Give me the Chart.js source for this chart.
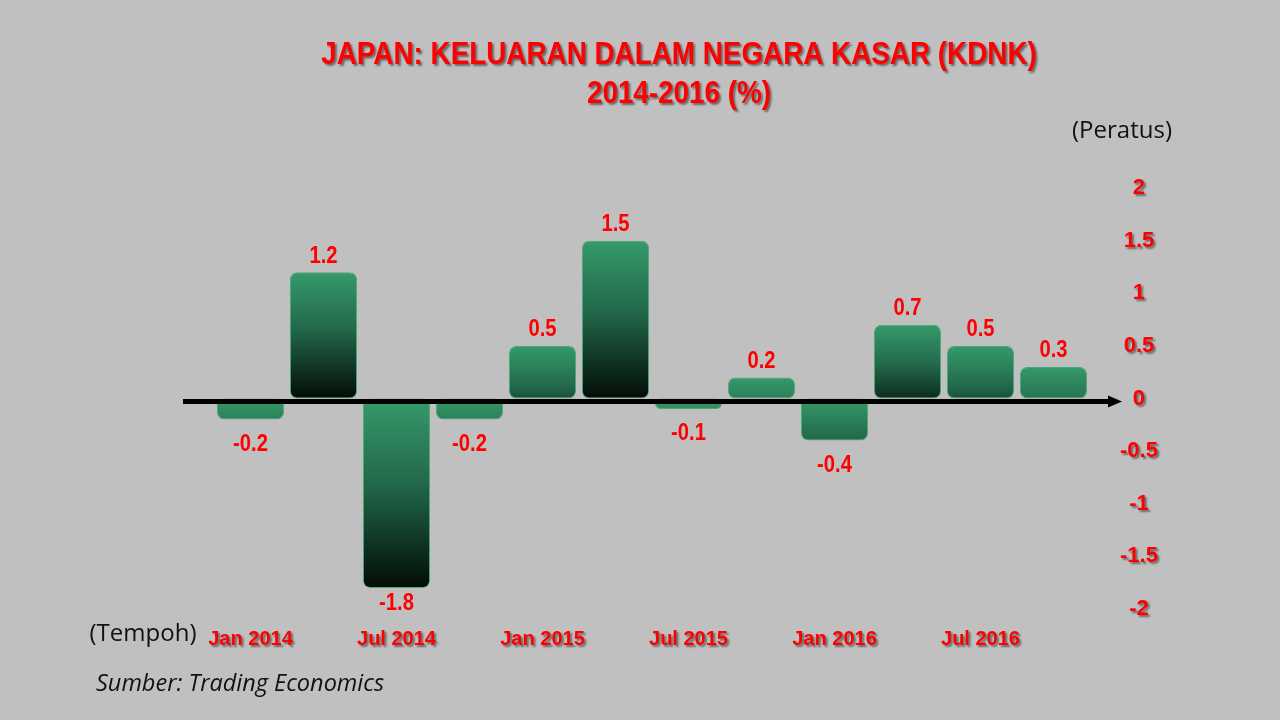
<!DOCTYPE html>
<html>
<head>
<meta charset="utf-8">
<script src="https://cdn.jsdelivr.net/npm/chart.js@4/dist/chart.umd.min.js"></script>
<style>
  html, body { margin: 0; padding: 0; background: #c0c0c0; }
  #wrap { width: 1280px; height: 720px; position: relative; }
</style>
</head>
<body>
<div id="wrap"><canvas id="kdnkChart" width="1280" height="720"></canvas></div>
<script>
/* global Chart */

// quarterly GDP growth, Japan 2014-2016
const quarters = ['Jan 2014', 'Apr 2014', 'Jul 2014', 'Okt 2014',
                  'Jan 2015', 'Apr 2015', 'Jul 2015', 'Okt 2015',
                  'Jan 2016', 'Apr 2016', 'Jul 2016', 'Okt 2016'];
const growth = [-0.2, 1.2, -1.8, -0.2, 0.5, 1.5, -0.1, 0.2, -0.4, 0.7, 0.5, 0.3];
const yTicks = [2, 1.5, 1, 0.5, 0, -0.5, -1, -1.5, -2];

const RED = '#ff0000';
const BOLD = '"Liberation Sans", Arial, sans-serif';

// red text shadow used on titles and tick labels
function setShadow(ctx, on) {
    ctx.shadowColor = on ? 'rgba(0,0,0,0.45)' : 'rgba(0,0,0,0)';
    ctx.shadowOffsetX = on ? 2 : 0;
    ctx.shadowOffsetY = on ? 2 : 0;
    ctx.shadowBlur = on ? 2 : 0;
}

// no narrow font installed, so squeeze the text horizontally
function narrowText(ctx, text, x, y, sx) {
    ctx.save();
    ctx.translate(x, y);
    ctx.scale(sx, 1);
    ctx.fillText(text, 0, 0);
    ctx.restore();
}

// titles, notes, axis arrow and value labels
const decorations = {
    id: 'decorations',
    beforeDraw(chart) {
        const ctx = chart.ctx;
        ctx.save();
        ctx.fillStyle = '#c0c0c0';
        ctx.fillRect(0, 0, chart.width, chart.height);
        ctx.restore();
        // shadow for the axis tick labels
        setShadow(ctx, true);
    },
    beforeDatasetsDraw(chart) {
        setShadow(chart.ctx, false);
    },
    afterDatasetsDraw(chart) {
        const ctx = chart.ctx;
        const area = chart.chartArea;
        const y = chart.scales.y;
        const y0 = y.getPixelForValue(0) + 3;

        // x axis line with arrow
        ctx.save();
        ctx.fillStyle = '#000';
        ctx.fillRect(area.left - 31, y0 - 2.5, area.right - area.left + 52, 5);
        ctx.beginPath();
        ctx.moveTo(area.right + 32, y0);
        ctx.lineTo(area.right + 18, y0 - 6);
        ctx.lineTo(area.right + 18, y0 + 6);
        ctx.closePath();
        ctx.fill();
        ctx.restore();

        // value labels
        const meta = chart.getDatasetMeta(0);
        ctx.save();
        ctx.fillStyle = RED;
        ctx.font = 'bold 23px ' + BOLD;
        ctx.textAlign = 'center';
        ctx.textBaseline = 'middle';
        meta.data.forEach((bar, i) => {
            const v = growth[i];
            const ly = v >= 0 ? bar.y - 16 : bar.y + (v > -0.5 ? 25 : 16);
            narrowText(ctx, v.toFixed(1), bar.x, ly, 0.88);
        });
        ctx.restore();
    },
    afterDraw(chart) {
        const ctx = chart.ctx;
        ctx.save();
        ctx.textAlign = 'center';
        ctx.textBaseline = 'middle';
        setShadow(ctx, true);
        ctx.fillStyle = RED;
        ctx.font = 'bold 32px ' + BOLD;
        narrowText(ctx, 'JAPAN: KELUARAN DALAM NEGARA KASAR (KDNK)', 679, 55, 0.87);
        narrowText(ctx, '2014-2016 (%)', 679, 94, 0.87);
        setShadow(ctx, false);

        ctx.fillStyle = '#111';
        ctx.font = '24px "Open Sans", "Liberation Sans", sans-serif';
        ctx.fillText('(Peratus)', 1122, 131);
        ctx.fillText('(Tempoh)', 143, 634);
        ctx.textAlign = 'left';
        ctx.font = 'italic 23.5px "Open Sans", "Liberation Sans", sans-serif';
        ctx.fillText('Sumber: Trading Economics', 96, 684);
        ctx.restore();
    }
};

const context = document.getElementById('kdnkChart').getContext('2d');

new Chart(context, {
    type: 'bar',
    data: {
        labels: quarters,
        datasets: [{
            data: growth,
            backgroundColor: c => {
                const chart = c.chart;
                if (!chart.chartArea || c.dataIndex === undefined) return '#359a6a';
                const y = chart.scales.y;
                const v = growth[c.dataIndex];
                const top = y.getPixelForValue(Math.max(v, 0));
                const bot = y.getPixelForValue(Math.min(v, 0));
                const g = chart.ctx.createLinearGradient(0, top, 0, Math.max(bot, top + 90));
                g.addColorStop(0, '#359a6a');
                g.addColorStop(0.45, '#22684a');
                g.addColorStop(1, '#020c06');
                return g;
            },
            borderColor: '#4aa97a',
            borderWidth: 1,
            borderRadius: 7,
            borderSkipped: false,
            categoryPercentage: 0.92,
            barPercentage: 1
        }]
    },
    options: {
        responsive: false,
        animation: false,
        layout: { padding: { left: 214, right: 110, top: 188, bottom: 51 } },
        plugins: {
            legend: { display: false },
            title: { display: false },
            tooltip: { enabled: false }
        },
        scales: {
            x: {
                grid: { display: false, drawTicks: false },
                border: { display: false },
                ticks: {
                    color: RED,
                    font: { family: BOLD, size: 20, weight: 'bold' },
                    padding: 18,
                    maxRotation: 0,
                    autoSkip: false,
                    callback: (val, i) => (i % 2 === 0 ? quarters[i] : '')
                }
            },
            y: {
                position: 'right',
                min: -2,
                max: 2,
                afterBuildTicks: scale => {
                    scale.ticks = yTicks.map(v => ({ value: v }));
                },
                afterFit: scale => { scale.width = 80; },
                grid: { display: false, drawTicks: false },
                border: { display: false },
                ticks: {
                    color: RED,
                    font: { family: BOLD, size: 22, weight: 'bold' },
                    padding: 30,
                    crossAlign: 'center',
                    callback: v => String(v)
                }
            }
        }
    },
    plugins: [decorations]
});
</script>
</body>
</html>
